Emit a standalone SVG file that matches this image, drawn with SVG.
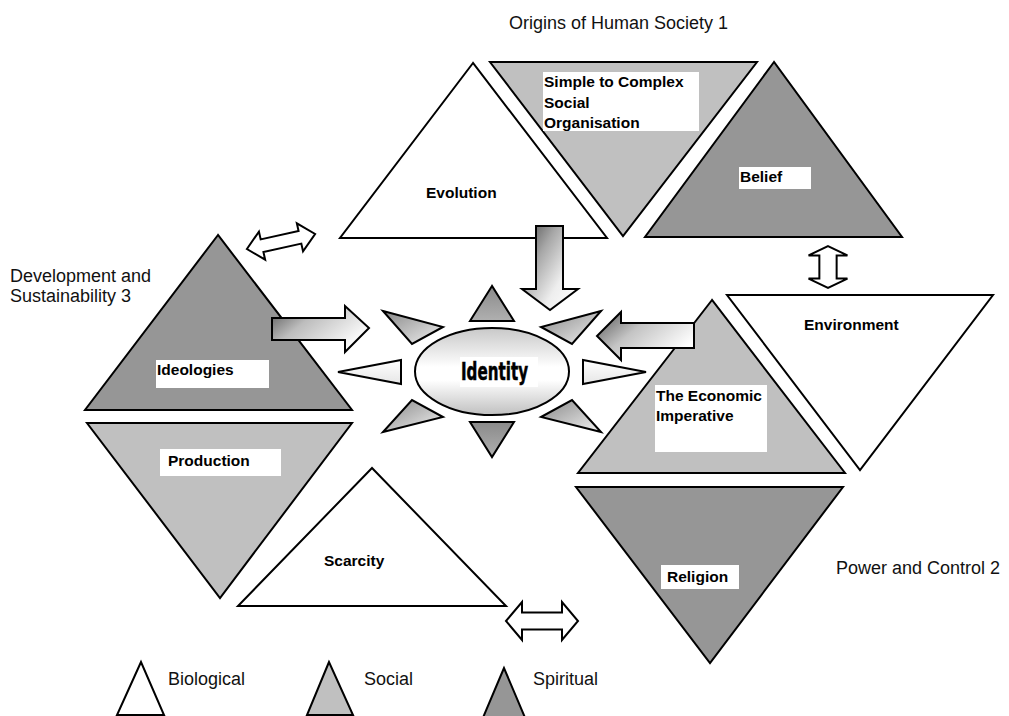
<svg xmlns="http://www.w3.org/2000/svg" width="1009" height="716" viewBox="0 0 1009 716">
  <style>
    .tri { stroke: #000; stroke-width: 2; stroke-linejoin: miter; }
    .bio { fill: #ffffff; }
    .soc { fill: #c0c0c0; }
    .spi { fill: #969696; }
    .lbl { font-family: "Liberation Sans", Arial, sans-serif; font-weight: bold; font-size: 15.5px; fill: #000; }
    .cap { font-family: "Liberation Sans", Arial, sans-serif; font-size: 18px; fill: #111; }
    .box { fill: #ffffff; stroke: none; }
    .conn { stroke: #000; stroke-width: 2; stroke-linejoin: miter; }
    .ray { stroke: #000; stroke-width: 2; stroke-linejoin: miter; }
  </style>
  <defs>
    <linearGradient id="gDown" x1="0" y1="0" x2="1" y2="0.9">
      <stop offset="0" stop-color="#4a4a4a"/>
      <stop offset="0.35" stop-color="#a8a8a8"/>
      <stop offset="0.7" stop-color="#eeeeee"/>
      <stop offset="1" stop-color="#ffffff"/>
    </linearGradient>
    <linearGradient id="gRight" x1="0" y1="0" x2="1" y2="0.6">
      <stop offset="0" stop-color="#555555"/>
      <stop offset="0.4" stop-color="#bdbdbd"/>
      <stop offset="1" stop-color="#ffffff"/>
    </linearGradient>
    <linearGradient id="gLeft" x1="0" y1="0" x2="1" y2="0.6">
      <stop offset="0" stop-color="#555555"/>
      <stop offset="0.45" stop-color="#c4c4c4"/>
      <stop offset="1" stop-color="#ffffff"/>
    </linearGradient>
    <linearGradient id="gCore" x1="0" y1="0" x2="0" y2="1">
      <stop offset="0" stop-color="#c8c8c8"/>
      <stop offset="0.45" stop-color="#ffffff"/>
      <stop offset="0.6" stop-color="#ffffff"/>
      <stop offset="1" stop-color="#c0c0c0"/>
    </linearGradient>
    <linearGradient id="gDark" x1="0" y1="0" x2="0" y2="1">
      <stop offset="0" stop-color="#8a8a8a"/>
      <stop offset="1" stop-color="#b0b0b0"/>
    </linearGradient>
    <linearGradient id="gDiag" x1="0" y1="0" x2="1" y2="1">
      <stop offset="0" stop-color="#888888"/>
      <stop offset="1" stop-color="#f2f2f2"/>
    </linearGradient>
    <linearGradient id="gPale" x1="0" y1="0" x2="0" y2="1">
      <stop offset="0" stop-color="#ffffff"/>
      <stop offset="1" stop-color="#e6e6e6"/>
    </linearGradient>
    <!-- hollow double-headed arrow, horizontal, centred on 0,0 -->
    <path id="dbl" d="M-36,0 L-20,-18 L-20,-8 L20,-8 L20,-18 L36,0 L20,18 L20,8 L-20,8 L-20,18 Z" fill="#fff" stroke="#000" stroke-width="2" vector-effect="non-scaling-stroke"/>
  </defs>

  <rect width="1009" height="716" fill="#ffffff"/>

  <!-- section captions -->
  <text class="cap" x="509" y="29">Origins of Human Society 1</text>
  <text class="cap" x="10" y="282">Development and</text>
  <text class="cap" x="10" y="302">Sustainability 3</text>
  <text class="cap" x="836" y="574">Power and Control 2</text>

  <!-- Origins of Human Society -->
  <g id="evolution">
    <polygon class="tri bio" points="473,63 340,238 607,238"/>
    <text class="lbl" x="426" y="198">Evolution</text>
  </g>
  <g id="simple-to-complex">
    <polygon class="tri soc" points="490,62 757,62 623,236"/>
    <rect class="box" x="543" y="72" width="156" height="59"/>
    <text class="lbl" x="544" y="87">Simple to Complex</text>
    <text class="lbl" x="544" y="108">Social</text>
    <text class="lbl" x="544" y="128">Organisation</text>
  </g>
  <g id="belief">
    <polygon class="tri spi" points="774,62 645,237 902,237"/>
    <rect class="box" x="739" y="167" width="72" height="22"/>
    <text class="lbl" x="740" y="182">Belief</text>
  </g>

  <!-- Power and Control -->
  <g id="environment">
    <polygon class="tri bio" points="727,295 993,295 860,470"/>
    <text class="lbl" x="804" y="330">Environment</text>
  </g>
  <g id="economic-imperative">
    <polygon class="tri soc" points="712,300 578,473 845,473"/>
    <rect class="box" x="655" y="385" width="112" height="67"/>
    <text class="lbl" x="656" y="401">The Economic</text>
    <text class="lbl" x="656" y="421">Imperative</text>
  </g>
  <g id="religion">
    <polygon class="tri spi" points="576,487 843,487 710,663"/>
    <rect class="box" x="661" y="565" width="78" height="24"/>
    <text class="lbl" x="667" y="582">Religion</text>
  </g>

  <!-- Development and Sustainability -->
  <g id="ideologies">
    <polygon class="tri spi" points="218,235 85,410 352,410"/>
    <rect class="box" x="156" y="360" width="113" height="28"/>
    <text class="lbl" x="157" y="375">Ideologies</text>
  </g>
  <g id="production">
    <polygon class="tri soc" points="87,423 352,423 220,598"/>
    <rect class="box" x="160" y="449" width="121" height="27"/>
    <text class="lbl" x="168" y="466">Production</text>
  </g>
  <g id="scarcity">
    <polygon class="tri bio" points="372,468 238,606 506,606"/>
    <text class="lbl" x="324" y="566">Scarcity</text>
  </g>

  <!-- central hub with radiating points -->
  <g id="identity">
    <polygon class="ray" fill="url(#gDark)" points="492,286 470,321 514,321"/>
    <polygon class="ray" fill="url(#gDark)" points="470,422 514,422 492,457"/>
    <polygon class="ray" fill="url(#gPale)" points="338,372 401,360 401,384"/>
    <polygon class="ray" fill="url(#gPale)" points="646,372 583,360 583,384"/>
    <polygon class="ray" fill="url(#gDiag)" points="383,311 443,327 412,344"/>
    <polygon class="ray" fill="url(#gDiag)" points="601,311 541,327 572,344"/>
    <polygon class="ray" fill="url(#gDiag)" points="383,432 443,417 412,400"/>
    <polygon class="ray" fill="url(#gDiag)" points="601,432 541,417 572,400"/>
    <ellipse cx="492" cy="371.5" rx="77" ry="43.5" fill="url(#gCore)" stroke="#000" stroke-width="2"/>
    <rect class="box" x="460" y="357" width="78" height="30"/>
    <text x="461" y="380" textLength="67" lengthAdjust="spacingAndGlyphs" font-family="'DejaVu Sans Condensed', 'Liberation Sans Narrow', 'Liberation Sans', sans-serif" font-weight="bold" font-size="24" fill="#000" stroke="#000" stroke-width="0.5">Identity</text>
  </g>

  <!-- arrows between the themes and into the hub -->
  <g id="connectors">
    <!-- Evolution feeds Identity -->
    <path class="conn" fill="url(#gDown)" d="M536,226 L563,226 L563,289 L578,289 L550,310 L522,289 L536,289 Z"/>
    <!-- Ideologies feeds Identity -->
    <path class="conn" fill="url(#gRight)" d="M272,318 L345,318 L345,306 L369,328 L345,352 L345,340 L272,340 Z"/>
    <!-- Economic Imperative feeds Identity -->
    <path class="conn" fill="url(#gLeft)" d="M694,323 L621,323 L621,312 L597,336 L621,360 L621,348 L694,348 Z"/>
    <!-- two-way links -->
    <use href="#dbl" transform="translate(281,241.5) rotate(-12.4) scale(0.97,0.8)"/>
    <use href="#dbl" transform="translate(828,267) rotate(90) scale(0.58,1.08)"/>
    <use href="#dbl" transform="translate(542,621) scale(1,1.05)"/>
  </g>

  <!-- key -->
  <g id="legend">
    <polygon class="tri bio" points="141,662 117,715 164,715"/>
    <text class="cap" x="168" y="685">Biological</text>
    <polygon class="tri soc" points="329,662 307,715 353,715"/>
    <text class="cap" x="364" y="685">Social</text>
    <polygon class="tri spi" points="504,668 482,720 526,720"/>
    <text class="cap" x="533" y="685">Spiritual</text>
  </g>
</svg>
